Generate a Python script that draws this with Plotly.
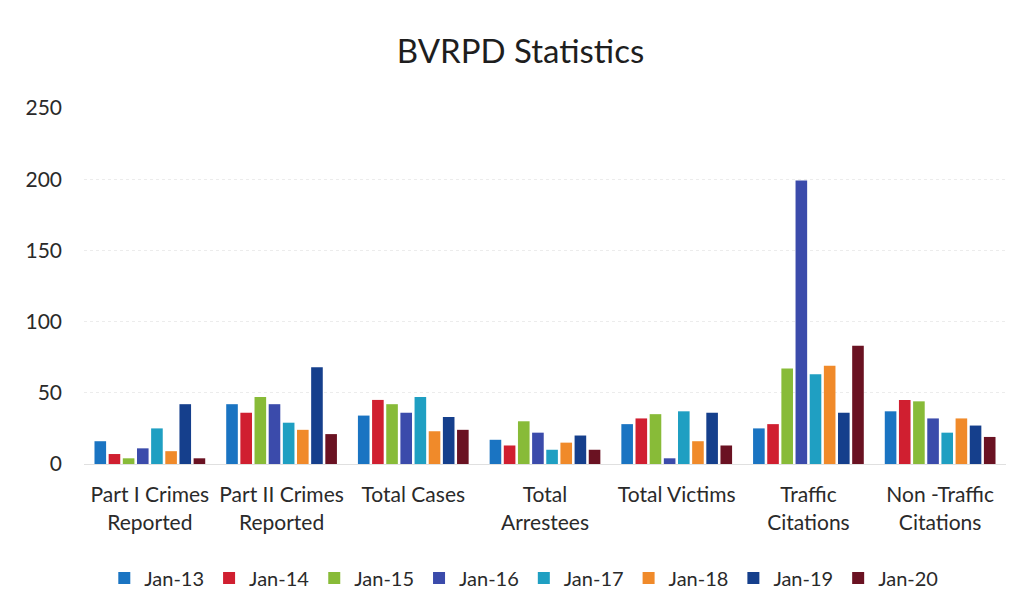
import plotly.graph_objects as go

categories = ["Part I Crimes<br>Reported", "Part II Crimes<br>Reported", "Total Cases",
              "Total<br>Arrestees", "Total Victims", "Traffic<br>Citations",
              "Non -Traffic<br>Citations"]
series_names = ["Jan-13", "Jan-14", "Jan-15", "Jan-16", "Jan-17", "Jan-18", "Jan-19", "Jan-20"]
jan13 = [16, 42, 34, 17, 28, 25, 37]
jan14 = [7, 36, 45, 13, 32, 28, 45]
jan15 = [4, 47, 42, 30, 35, 67, 44]
jan16 = [11, 42, 36, 22, 4, 199, 32]
jan17 = [25, 29, 47, 10, 37, 63, 22]
jan18 = [9, 24, 23, 15, 16, 69, 32]
jan19 = [42, 68, 33, 20, 36, 36, 27]
jan20 = [4, 21, 24, 10, 13, 83, 19]
series_values = [jan13, jan14, jan15, jan16, jan17, jan18, jan19, jan20]
y_ticks = [0, 50, 100, 150, 200, 250]

colors = ["#1a74c2", "#d01f30", "#88bb38", "#3b4bab", "#1f9fc2", "#f08a2a", "#153f8c", "#6a1222"]

fig = go.Figure()
for name, vals, c in zip(series_names, series_values, colors):
    fig.add_trace(go.Bar(name=name, x=categories, y=vals, marker=dict(color=c, line=dict(width=0))))

font_family = "Lato, Open Sans, sans-serif"
fig.update_layout(
    width=1025, height=614,
    barmode="group", bargap=0.14, bargroupgap=0.18,
    paper_bgcolor="white", plot_bgcolor="white",
    margin=dict(l=76, r=27, t=100, b=158),
    title=dict(text="BVRPD Statistics", x=0.5, xanchor="center", y=0.93, yanchor="middle",
               font=dict(family=font_family, size=33, color="#1e1e1e")),
    font=dict(family=font_family, size=20, color="#2a2a2a"),
    xaxis=dict(showgrid=False, showline=True, linecolor="#e0e0e0", ticks="",
               tickfont=dict(size=21, color="#2a2a2a"), ticklabelstandoff=12),
    yaxis=dict(range=[0, 250], tickvals=y_ticks, showgrid=True, gridcolor="#ececec",
               griddash="dot", zeroline=False, showline=False,
               tickfont=dict(size=21, color="#2a2a2a"), ticklabelstandoff=21),
    legend=dict(orientation="h", x=0.477, xanchor="center", y=-0.32, yanchor="middle",
                font=dict(size=20, color="#2a2a2a"), itemwidth=30, tracegroupgap=0),
    showlegend=True,
)
fig.write_html("out.html")
